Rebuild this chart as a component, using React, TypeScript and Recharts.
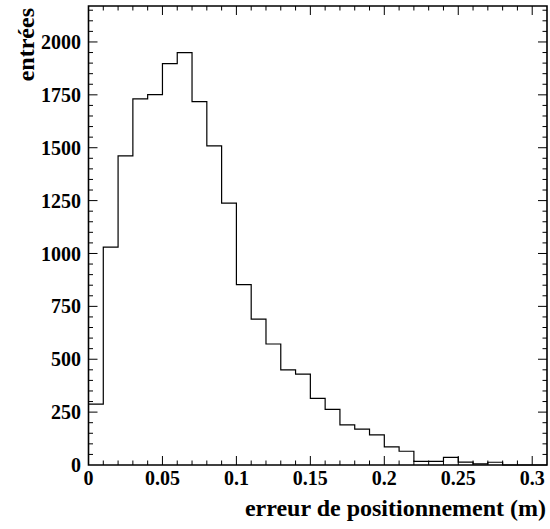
import { LineChart, Line, XAxis, YAxis, ReferenceLine, ReferenceArea, Label } from "recharts";

// histogram bins, width 0.01 m
const binStarts = [
  0, 0.01, 0.02, 0.03, 0.04, 0.05, 0.06, 0.07, 0.08, 0.09, 0.1, 0.11, 0.12, 0.13, 0.14, 0.15,
  0.16, 0.17, 0.18, 0.19, 0.2, 0.21, 0.22, 0.23, 0.24, 0.25, 0.26, 0.27, 0.28, 0.29, 0.3,
];
const counts = [
  288, 1030, 1461, 1731, 1751, 1898, 1950, 1718, 1509, 1238, 853, 690, 572, 450, 430, 315,
  263, 190, 170, 142, 86, 65, 17, 17, 36, 14, 5, 13, 0, 0, 0,
];
const xTicks = [0, 0.05, 0.1, 0.15, 0.2, 0.25, 0.3];
const xTickLabels = ["0", "0.05", "0.1", "0.15", "0.2", "0.25", "0.3"];
const yTicks = [0, 250, 500, 750, 1000, 1250, 1500, 1750, 2000];

const X_MAX = 0.31;
const Y_MAX = 2170;

const W = 550;
const H = 529;
const MARGIN = { top: 6, right: 3, left: 0, bottom: 0 };
const Y_AXIS_W = 88.5;
const X_AXIS_H = 64;

const FONT = "'Liberation Serif', 'Times New Roman', serif";

const data = binStarts
  .map((x, i) => ({ x, n: counts[i] }))
  .concat([{ x: X_MAX, n: 0 }]);

// inward tick marks (ROOT style), lengths in px converted to data units
const plotW = W - MARGIN.left - MARGIN.right - Y_AXIS_W;
const plotH = H - MARGIN.top - MARGIN.bottom - X_AXIS_H;
const xPerPx = X_MAX / plotW;
const yPerPx = Y_MAX / plotH;
const MAJOR = 9;
const MINOR = 4.5;

const xMinor = Array.from({ length: 30 }, (_, i) => ({ v: (i + 1) / 100, major: (i + 1) % 5 === 0 }));
const yMinor = Array.from({ length: 43 }, (_, i) => ({ v: (i + 1) * 50, major: (i + 1) % 5 === 0 }));

function xLabel(v: number) {
  const i = xTicks.indexOf(v);
  return i >= 0 ? xTickLabels[i] : String(v);
}

export default function App() {
  const tickStyle = { fontSize: 20, fontWeight: "bold", fill: "#000", fontFamily: FONT };
  return (
    <div style={{ position: "absolute", left: 0, top: 0, width: W, height: H, background: "#fff" }}>
      <LineChart width={W} height={H} data={data} margin={MARGIN}>
        <XAxis
          dataKey="x"
          type="number"
          domain={[0, X_MAX]}
          ticks={xTicks}
          interval={0}
          tickFormatter={xLabel}
          tick={tickStyle}
          tickLine={false}
          axisLine={false}
          tickSize={0}
          tickMargin={6}
          height={X_AXIS_H}
        >
          <Label
            content={({ viewBox }: any) => (
              <text
                x={viewBox.x + viewBox.width - 1}
                y={viewBox.y + 51}
                textAnchor="end"
                fontSize={24}
                fontWeight="bold"
                fontFamily={FONT}
                fill="#000"
              >
                erreur de positionnement (m)
              </text>
            )}
          />
        </XAxis>
        <YAxis
          type="number"
          domain={[0, Y_MAX]}
          ticks={yTicks}
          interval={0}
          tick={tickStyle}
          tickLine={false}
          axisLine={false}
          tickSize={0}
          tickMargin={7.5}
          width={Y_AXIS_W}
        >
          <Label
            content={({ viewBox }: any) => (
              <text
                x={34}
                y={viewBox.y + 2}
                transform={`rotate(-90 34 ${viewBox.y + 2})`}
                textAnchor="end"
                fontSize={24}
                fontWeight="bold"
                fontFamily={FONT}
                fill="#000"
              >
                entrées
              </text>
            )}
          />
        </YAxis>
        <Line
          type="stepAfter"
          dataKey="n"
          stroke="#000"
          strokeWidth={1.2}
          dot={false}
          isAnimationActive={false}
        />
        {xMinor.map((t) => (
          <ReferenceLine
            key={"xb" + t.v}
            segment={[{ x: t.v, y: 0 }, { x: t.v, y: (t.major ? MAJOR : MINOR) * yPerPx }]}
            stroke="#000"
            strokeWidth={1}
          />
        ))}
        {xMinor.map((t) => (
          <ReferenceLine
            key={"xt" + t.v}
            segment={[{ x: t.v, y: Y_MAX }, { x: t.v, y: Y_MAX - (t.major ? MAJOR : MINOR) * yPerPx }]}
            stroke="#000"
            strokeWidth={1}
          />
        ))}
        {yMinor.map((t) => (
          <ReferenceLine
            key={"yl" + t.v}
            segment={[{ x: 0, y: t.v }, { x: (t.major ? MAJOR : MINOR) * xPerPx, y: t.v }]}
            stroke="#000"
            strokeWidth={1}
          />
        ))}
        {yMinor.map((t) => (
          <ReferenceLine
            key={"yr" + t.v}
            segment={[{ x: X_MAX, y: t.v }, { x: X_MAX - (t.major ? MAJOR : MINOR) * xPerPx, y: t.v }]}
            stroke="#000"
            strokeWidth={1}
          />
        ))}
        <ReferenceArea x1={0} x2={X_MAX} y1={0} y2={Y_MAX} fill="none" stroke="#000" strokeWidth={1.6} />
      </LineChart>
    </div>
  );
}
